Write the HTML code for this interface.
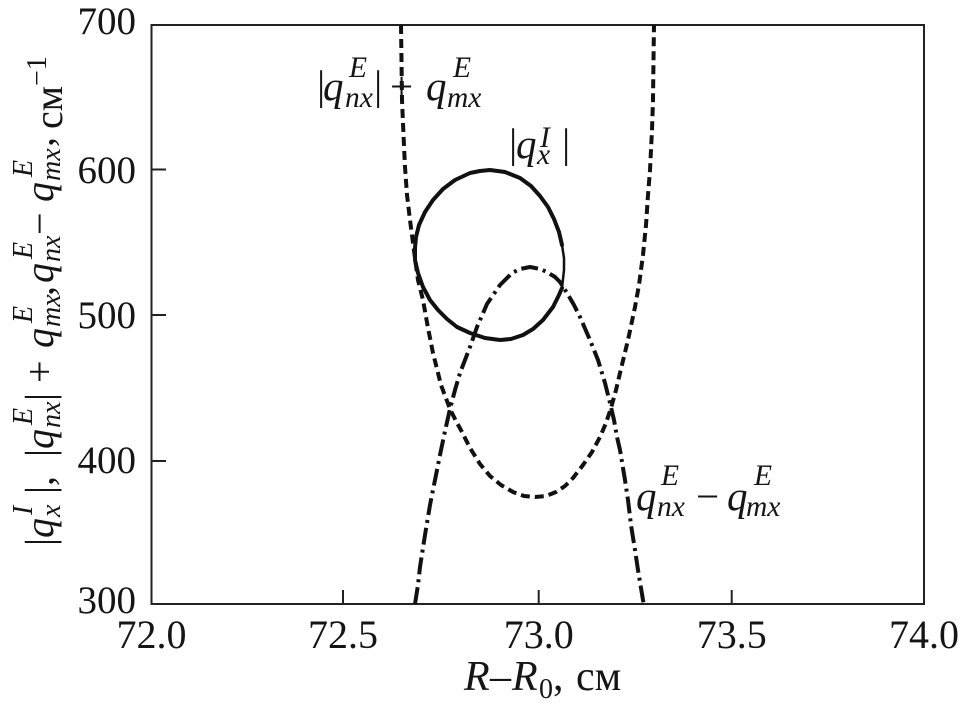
<!DOCTYPE html>
<html>
<head>
<meta charset="utf-8">
<style>
  html, body { margin:0; padding:0; background:#fff; }
  svg { display:block; }
  text { font-family:"Liberation Serif", "DejaVu Serif", serif; fill:#151515; }
  .i { font-style:italic; }
</style>
</head>
<body>
<svg width="963" height="713" viewBox="0 0 963 713" xmlns="http://www.w3.org/2000/svg">
  <rect width="963" height="713" fill="#fff"/>

  <!-- axes frame -->
  <path d="M151.5 25 H924 V604 H151.5 Z" fill="none" stroke="#222" stroke-width="2"/>
  <!-- y ticks -->
  <path d="M152 169.5 H166 M152 315 H166 M152 461 H166" stroke="#222" stroke-width="2"/>
  <!-- x ticks -->
  <path d="M343 604 V590 M538.7 604 V590 M731.7 604 V590" stroke="#222" stroke-width="2"/>

  <!-- y tick labels -->
  <g font-size="39" text-anchor="end">
    <text x="136" y="34">700</text>
    <text x="136" y="183">600</text>
    <text x="136" y="328">500</text>
    <text x="136" y="473">400</text>
    <text x="136" y="613">300</text>
  </g>
  <!-- x tick labels -->
  <g font-size="40" text-anchor="middle">
    <text x="151.5" y="648">72.0</text>
    <text x="343" y="648">72.5</text>
    <text x="538.7" y="648">73.0</text>
    <text x="731.7" y="648">73.5</text>
    <text x="924" y="648">74.0</text>
  </g>

  <!-- x axis title -->
  <g font-size="42">
    <text class="i" x="464" y="690">R</text>
    <text x="490" y="690">–</text>
    <text class="i" x="512" y="690">R</text>
    <text x="539" y="698" font-size="28">0</text>
    <text x="553" y="690">,</text>
    <text x="576" y="690">см</text>
  </g>

  <!-- y axis title (rotated) -->
  <g transform="translate(53,546) rotate(-90)" font-size="40">
    <text x="0" y="0">|</text>
    <text class="i" x="8" y="0">q</text>
    <text class="i" x="29" y="7" font-size="28">x</text>
    <text class="i" x="31" y="-21" font-size="28">I</text>
    <text x="52" y="0">|</text>
    <text x="60" y="0">,</text>
    <text x="89" y="0">|</text>
    <text class="i" x="97" y="0">q</text>
    <text class="i" x="118" y="7" font-size="28">nx</text>
    <text class="i" x="121" y="-21" font-size="28">E</text>
    <text x="145" y="0">|</text>
    <text x="163" y="0">+</text>
    <text class="i" x="198" y="0">q</text>
    <text class="i" x="219" y="7" font-size="28">mx</text>
    <text class="i" x="223" y="-21" font-size="28">E</text>
    <text x="250" y="0">,</text>
    <text class="i" x="263" y="0">q</text>
    <text class="i" x="284" y="7" font-size="28">nx</text>
    <text class="i" x="287" y="-21" font-size="28">E</text>
    <text x="311" y="0">−</text>
    <text class="i" x="344" y="0">q</text>
    <text class="i" x="365" y="7" font-size="28">mx</text>
    <text class="i" x="369" y="-21" font-size="28">E</text>
    <text x="399" y="0">,</text>
    <text x="417" y="9">см</text>
    <text x="460" y="-7" font-size="28">−1</text>
  </g>

  <!-- curves -->
  <!-- |q_nx^E| + q_mx^E : dashed -->
  <polyline fill="none" stroke="#111" stroke-width="4" stroke-dasharray="9 5" stroke-linejoin="round"
    points="401,25 401.5,60 402,100 403.5,135 405,167 407,195 410,220 413,243 415.5,262 418,280 423,300 428,328 433,353 441,385 450,409 456,421 462,432 470,448 480,464 490,476 501,485 513,492 524,496 535,497 546,496 556,492 565,486 573,478 583,465 592,452 600,437 606,423 611,408 616,390 620,373 628,340 635,307 639,285 643,255 646,225 648,195 650,170 652,130 653,100 653.5,60 654,25"/>

  <!-- |q_x^I| : solid loop -->
  <polyline fill="none" stroke="#111" stroke-width="4" stroke-linejoin="round" stroke-linecap="round"
    points="562,245 559,232 554,219 548,207 540,196 531,186 520,178 505,172 490,170 480,171 470,173 455,180 443,189 433,200 425,212 419,225 416,237 415,248 415,260 418,273 423,287 430,300 438,310 447,319 457,327 470,333 485,338 500,340 511,339 523,335 533,329 543,320 553,307 559,295 562,288"/>
  <polyline fill="none" stroke="#111" stroke-width="2.5" stroke-linejoin="round"
    points="562,245 564,258 564,270 562,288"/>

  <!-- q_nx^E - q_mx^E : dash-dot -->
  <polyline fill="none" stroke="#111" stroke-width="4" stroke-dasharray="17 5 3 5" stroke-linejoin="round"
    points="415,604 418,585 420,567 425,535 430,505 435,480 440,455 445,431 450,409 455,390 460,373 465,360 470,347 477,327 487,304 500,285 512,273 520,269 530,267 540,269 547,272 555,277 560,282 567,293 574,305 580,317 590,340 598,360 605,383 610,403 614,420 617,437 620,450 622,462 625,480 628,500 631,525 635,550 638,570 641,588 643,600 644,605"/>

  <!-- label 1: |q_nx^E| + q_mx^E -->
  <g font-size="41">
    <text x="317" y="99">|</text>
    <text class="i" x="323" y="100">q</text>
    <text class="i" x="345" y="107" font-size="29.5">nx</text>
    <text class="i" x="349" y="77" font-size="29.5">E</text>
    <text x="374" y="99">|</text>
    <text x="390" y="100">+</text>
    <text class="i" x="426" y="100">q</text>
    <text class="i" x="447" y="107" font-size="29.5">mx</text>
    <text class="i" x="453" y="77" font-size="29.5">E</text>
  </g>

  <!-- label 2: |q_x^I| -->
  <g font-size="41">
    <text x="509" y="157">|</text>
    <text class="i" x="516" y="158">q</text>
    <text class="i" x="537" y="164" font-size="29.5">x</text>
    <text class="i" x="540" y="147" font-size="29.5">I</text>
    <text x="562" y="157">|</text>
  </g>

  <!-- label 3: q_nx^E - q_mx^E -->
  <g font-size="41">
    <text class="i" x="636" y="510">q</text>
    <text class="i" x="657" y="516" font-size="29.5">nx</text>
    <text class="i" x="661" y="485" font-size="29.5">E</text>
    <text x="696" y="510">−</text>
    <text class="i" x="727" y="510">q</text>
    <text class="i" x="746" y="516" font-size="29.5">mx</text>
    <text class="i" x="754" y="485" font-size="29.5">E</text>
  </g>
</svg>
</body>
</html>
